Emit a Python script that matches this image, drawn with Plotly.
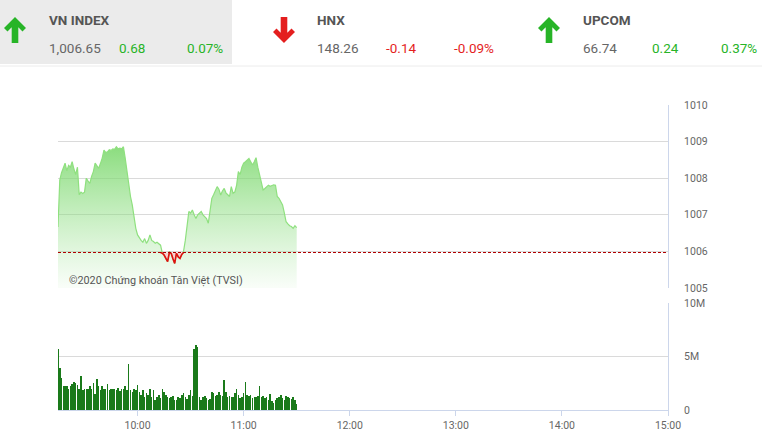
import plotly.graph_objects as go
import pandas as pd

# ---------------- data ----------------
start_time = "2020-01-01 09:15"
price = [
    1006.67, 1007.95, 1008.15, 1008.30, 1008.41, 1008.20, 1008.35, 1008.30, 1008.45, 1008.25,
    1008.10, 1008.30, 1007.55, 1007.62, 1007.58, 1007.62, 1008.00, 1007.92, 1007.86, 1008.05,
    1008.18, 1008.41, 1008.35, 1008.27, 1008.40, 1008.55, 1008.77, 1008.70, 1008.72, 1008.78,
    1008.76, 1008.80, 1008.79, 1008.86, 1008.80, 1008.82, 1008.80, 1008.86, 1008.55, 1008.15,
    1007.80, 1007.50, 1007.27, 1006.95, 1006.63, 1006.45, 1006.36, 1006.30, 1006.25, 1006.35,
    1006.22, 1006.30, 1006.45, 1006.30, 1006.27, 1006.22, 1006.25, 1006.20, 1006.17, 1005.95,
    1005.90, 1005.80, 1005.72, 1006.00, 1005.95, 1005.80, 1005.67, 1005.95, 1005.85, 1005.81,
    1005.92, 1006.00, 1006.30, 1006.70, 1007.09, 1007.05, 1007.13, 1007.00, 1006.90, 1007.00,
    1007.05, 1007.09, 1007.00, 1006.95, 1006.90, 1006.77, 1007.10, 1007.45, 1007.55, 1007.65,
    1007.77, 1007.70, 1007.54, 1007.65, 1007.72, 1007.60, 1007.55, 1007.50, 1007.77, 1007.59,
    1007.62, 1007.80, 1008.18, 1008.10, 1008.30, 1008.41, 1008.45, 1008.50, 1008.54, 1008.45,
    1008.36, 1008.45, 1008.56, 1008.30, 1008.09, 1007.85, 1007.68, 1007.72, 1007.76, 1007.81,
    1007.78, 1007.80, 1007.82, 1007.81, 1007.50, 1007.45, 1007.35, 1007.27, 1007.05, 1006.81,
    1006.75, 1006.70, 1006.68, 1006.63, 1006.70, 1006.65,
]
volume_m = [
    5.7, 3.9, 3.0, 2.2, 2.2, 2.25, 2.0, 2.2, 2.4, 2.6,
    2.5, 2.3, 2.0, 3.2, 1.9, 2.0, 2.0, 2.0, 2.25, 2.0,
    2.5, 1.45, 2.9, 2.25, 1.9, 2.25, 2.0, 2.0, 2.4, 1.9,
    2.0, 2.0, 2.0, 1.9, 2.1, 1.8, 2.0, 2.0, 2.2, 1.9,
    4.3, 1.9, 1.7, 2.0, 1.9, 2.3, 1.7, 1.4, 1.9, 1.25,
    1.55, 1.4, 2.0, 1.25, 1.9, 0.95, 1.25, 1.4, 1.1, 2.0,
    1.7, 1.4, 1.25, 1.1, 1.2, 1.3, 0.95, 0.9, 1.25, 1.1,
    1.4, 1.55, 1.25, 1.0, 1.4, 1.9, 1.3, 5.7, 6.1, 5.9,
    1.25, 0.95, 1.2, 1.3, 1.1, 0.95, 1.0, 1.7, 1.55, 1.3,
    1.4, 1.7, 1.4, 1.3, 2.8, 1.7, 1.25, 1.3, 1.2, 1.25,
    1.55, 2.0, 1.4, 1.1, 1.2, 1.55, 2.65, 1.4, 1.3, 1.4,
    1.1, 1.25, 1.25, 1.3, 2.2, 1.25, 1.3, 1.1, 1.25, 0.95,
    1.5, 0.8, 0.7, 0.95, 1.1, 1.25, 1.4, 1.1, 0.95, 1.3,
    1.2, 1.1, 1.0, 1.2, 0.9, 0.6,
]
reference = 1005.97
x_ticks = ["10:00", "11:00", "12:00", "13:00", "14:00", "15:00"]
price_ticks = [1005, 1006, 1007, 1008, 1009, 1010]
vol_tickvals = [0, 5e6, 10e6]
vol_ticktext = ["0", "5M", "10M"]

indices = [
    # name, arrow, value, change, pct
    ("VN INDEX", "up", "1,006.65", "0.68", "0.07%"),
    ("HNX", "down", "148.26", "-0.14", "-0.09%"),
    ("UPCOM", "up", "66.74", "0.24", "0.37%"),
]
watermark = "©2020 Chứng khoán Tân Việt (TVSI)"

# ---------------- figure ----------------
times = pd.date_range(start_time, periods=len(price), freq="1min")
vtimes = pd.date_range(start_time, periods=len(volume_m), freq="1min")
volume = [v * 1e6 for v in volume_m]
day = start_time[:10]

W, H = 762, 447
L, R, T, B = 58, 94, 105, 37
PW, PH = W - L - R, H - T - B


def px(x):
    return (x - L) / PW


def py(y):
    return (H - B - y) / PH


fig = go.Figure()

# baseline for fill
fig.add_trace(go.Scatter(x=times, y=[price_ticks[0]] * len(times), mode="lines",
                         line=dict(width=0), hoverinfo="skip", xaxis="x", yaxis="y"))
fig.add_trace(go.Scatter(
    x=times, y=price, mode="lines", fill="tonexty",
    line=dict(color="#8fe07f", width=1.2),
    fillgradient=dict(type="vertical", start=1005, stop=1009.0,
                      colorscale=[[0, "rgba(150,225,140,0.06)"], [1, "rgba(120,215,105,0.9)"]]),
    xaxis="x", yaxis="y"))

# red part below reference
dip = [i for i, v in enumerate(price) if v < reference]
i0, i1 = dip[0] - 1, dip[-1] + 1
red_y = [min(v, reference) for v in price[i0:i1 + 1]]
fig.add_trace(go.Scatter(x=times[i0:i1 + 1], y=[reference] * len(red_y), mode="lines",
                         line=dict(width=0), hoverinfo="skip", xaxis="x", yaxis="y"))
fig.add_trace(go.Scatter(x=times[i0:i1 + 1], y=red_y, mode="lines", fill="tonexty",
                         fillcolor="rgba(230,120,120,0.35)",
                         line=dict(color="#e01010", width=1.6), xaxis="x", yaxis="y"))

# reference line
fig.add_trace(go.Scatter(x=[pd.Timestamp(day + " 09:15"), pd.Timestamp(day + " 15:00")],
                         y=[reference, reference], mode="lines",
                         line=dict(color="#b00000", width=1, dash="3px,2px"),
                         xaxis="x", yaxis="y"))

# volume
fig.add_trace(go.Bar(x=vtimes, y=volume, marker=dict(color="#1a7a1a", line=dict(width=0)),
                     width=0.3 * 60000, xaxis="x2", yaxis="y2"))

axis_font = dict(family="Roboto, sans-serif", size=10.5, color="#666666")
xr = [day + " 09:15", day + " 15:00"]
tickvals_x = [day + " " + t for t in x_ticks]

fig.update_layout(
    width=W, height=H,
    margin=dict(l=L, r=R, t=T, b=B),
    paper_bgcolor="white", plot_bgcolor="white",
    showlegend=False,
    bargap=0,
    xaxis=dict(domain=[0, 1], anchor="y", range=xr, showticklabels=False, showgrid=False,
               zeroline=False, showline=False, tickvals=tickvals_x, fixedrange=True),
    xaxis2=dict(domain=[0, 1], anchor="y2", range=xr, matches="x", tickvals=tickvals_x,
                ticktext=x_ticks, showgrid=False, zeroline=False, showline=True,
                linecolor="#ccd6eb", linewidth=1, ticks="outside", ticklen=5,
                tickcolor="#ccd6eb", tickfont=axis_font),
    yaxis=dict(domain=[py(288), 1], anchor="x",
               side="right", range=[1005, 1010], tickvals=price_ticks,
               showgrid=True, gridcolor="#dadada", gridwidth=1, zeroline=False,
               showline=True, linecolor="#ccd6eb", linewidth=1,
               ticks="outside", ticklen=13, tickcolor="rgba(0,0,0,0)", tickfont=axis_font),
    yaxis2=dict(domain=[0, py(303)], anchor="x2", side="right", range=[0, 10e6],
                tickvals=vol_tickvals, ticktext=vol_ticktext,
                showgrid=True, gridcolor="#dadada", gridwidth=1, zeroline=False,
                showline=True, linecolor="#ccd6eb", linewidth=1,
                ticks="outside", ticklen=13, tickcolor="rgba(0,0,0,0)", tickfont=axis_font),
)

shapes = []
annotations = []
# header background
shapes.append(dict(type="rect", xref="paper", yref="paper", x0=px(0), x1=px(232),
                   y0=py(64), y1=py(0), fillcolor="#ebebeb", line=dict(width=0), layer="below"))
shapes.append(dict(type="line", xref="paper", yref="paper", x0=px(0), x1=px(762),
                   y0=py(66), y1=py(66), line=dict(color="#ececec", width=1)))

head_font = "Roboto, sans-serif"
green, red = "#27b427", "#e41e1e"
arrow_x = [15, 284, 549]
text_x = [47, 315, 581]
chg_x = [[117, 185], [384, 452], [650, 719]]


def arrow_path(cx, up):
    pts = [(cx, 17), (cx + 11, 28), (cx + 7.5, 31.5), (cx + 3.3, 27.3), (cx + 3.3, 43),
           (cx - 3.3, 43), (cx - 3.3, 27.3), (cx - 7.5, 31.5), (cx - 11, 28)]
    if not up:
        pts = [(x, 60 - y) for x, y in pts]
    return "M " + " L ".join(f"{px(x):.5f},{py(y):.5f}" for x, y in pts) + " Z"


for k, (name, direction, val, chg, pct) in enumerate(indices):
    col = green if direction == "up" else red
    shapes.append(dict(type="path", xref="paper", yref="paper",
                       path=arrow_path(arrow_x[k], direction == "up"),
                       fillcolor=col, line=dict(width=0)))
    annotations.append(dict(text=f"<b>{name}</b>", x=px(text_x[k]), y=py(20), xref="paper",
                            yref="paper", xanchor="left", yanchor="middle", showarrow=False,
                            font=dict(family=head_font, size=13.5, color="#555555")))
    annotations.append(dict(text=val, x=px(text_x[k]), y=py(48), xref="paper", yref="paper",
                            xanchor="left", yanchor="middle", showarrow=False,
                            font=dict(family=head_font, size=13.5, color="#666666")))
    annotations.append(dict(text=chg, x=px(chg_x[k][0]), y=py(48), xref="paper", yref="paper",
                            xanchor="left", yanchor="middle", showarrow=False,
                            font=dict(family=head_font, size=13.5, color=col)))
    annotations.append(dict(text=pct, x=px(chg_x[k][1]), y=py(48), xref="paper", yref="paper",
                            xanchor="left", yanchor="middle", showarrow=False,
                            font=dict(family=head_font, size=13.5, color=col)))

annotations.append(dict(text=watermark, x=px(67), y=py(280), xref="paper", yref="paper",
                        xanchor="left", yanchor="middle", showarrow=False,
                        font=dict(family="Roboto, sans-serif", size=10.8, color="#555555")))

fig.update_layout(shapes=shapes, annotations=annotations)
fig.write_html("out.html",
               config={"displayModeBar": False},
               post_script="document.body.style.margin='0px';document.body.style.overflow='hidden';")
